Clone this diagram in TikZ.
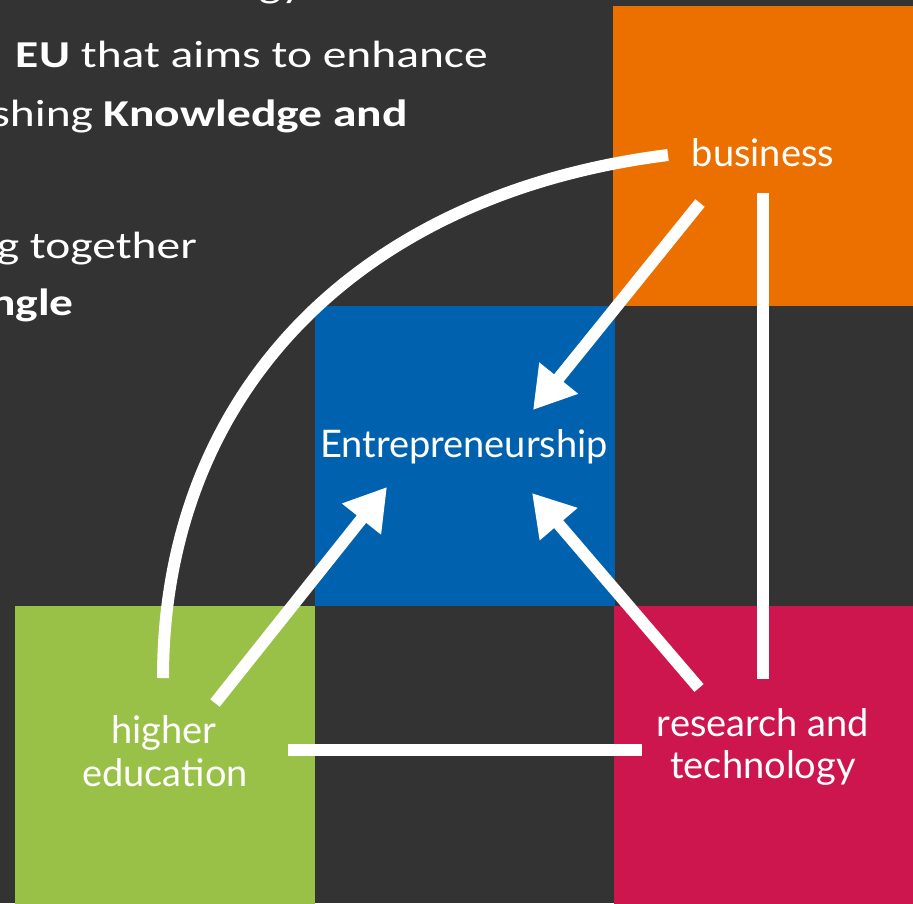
\documentclass[tikz,border=0pt]{standalone}
\usepackage{fontspec}
\newfontfamily\topfont[FakeStretch=1.25]{Carlito}
\newfontfamily\labfont{Lato}
\usetikzlibrary{arrows.meta}
\definecolor{bgdark}{HTML}{333333}
\definecolor{sqorange}{HTML}{EC7000}
\definecolor{sqblue}{HTML}{0062AE}
\definecolor{sqgreen}{HTML}{99C147}
\definecolor{sqred}{HTML}{CC164D}
\begin{document}
\begin{tikzpicture}[x=1pt,y=-1pt,
  sq/.style={draw=none, minimum size=300pt, inner sep=0pt, outer sep=0pt, anchor=north west},
  lab/.style={text=white, font=\labfont\fontsize{38}{42}\selectfont, inner sep=0pt, anchor=base},
  toptext/.style={text=white, font=\topfont\fontsize{38}{45}\selectfont, inner sep=0pt, anchor=base east},
  conn/.style={draw=white, line width=12pt, line cap=butt},
  headtip/.style={-{Triangle[length=41pt,width=47pt]}}
]
\useasboundingbox (0,0) rectangle (913,903);
\begin{scope}
\clip (0,0) rectangle (913,903);
\fill[bgdark] (0,0) rectangle (913,903);
% squares
\node[sq, fill=sqorange] (sqO) at (613,6) {};
\node[sq, fill=sqblue] (sqB) at (315,306) {};
\node[sq, fill=sqgreen] (sqG) at (15,606) {};
\node[sq, fill=sqred] (sqR) at (614,606) {};
% top text (cut off at the left)
\node[toptext] (t0) at (303,-3) {gy};
\node[toptext] (t1) at (488,67) {\textbf{EU} that aims to enhance};
\node[toptext] (t2) at (408,126) {shing \textbf{Knowledge and}};
\node[toptext] (t3) at (197,258) {g together};
\node[toptext] (t4) at (74,315) {\textbf{ngle}};
% labels
\node[lab] (biz) at (763,166) {business};
\node[lab] (ent) at (464,457) {Entrepreneurship};
\node[lab] (he1) at (164,743) {higher};
\node[lab] (he2) at (165,786) {education};
\node[lab] (rt1) at (763,736) {research and};
\node[lab] (rt2) at (763,778) {technology};
% connector ends
\coordinate (bizL) at (668,155);
\coordinate (heT) at (163,678);
\coordinate (bizD) at (700,203);
\coordinate (entNE) at (533,410);
\coordinate (heA) at (215,703);
\coordinate (entSW) at (387,487);
\coordinate (rtA) at (699,688);
\coordinate (entSE) at (532,493);
\coordinate (bizV) at (763,193);
\coordinate (rtV) at (763,679);
\coordinate (heH) at (288,750);
\coordinate (rtH) at (642,750);
% connectors
\draw[conn] (bizL) .. controls (350,195) and (163,400) .. (heT);
\draw[conn] (bizV) -- (rtV);
\draw[conn] (heH) -- (rtH);
\draw[conn,headtip] (bizD) -- (entNE);
\draw[conn,headtip] (heA) -- (entSW);
\draw[conn,headtip] (rtA) -- (entSE);
\end{scope}
\end{tikzpicture}
\end{document}
